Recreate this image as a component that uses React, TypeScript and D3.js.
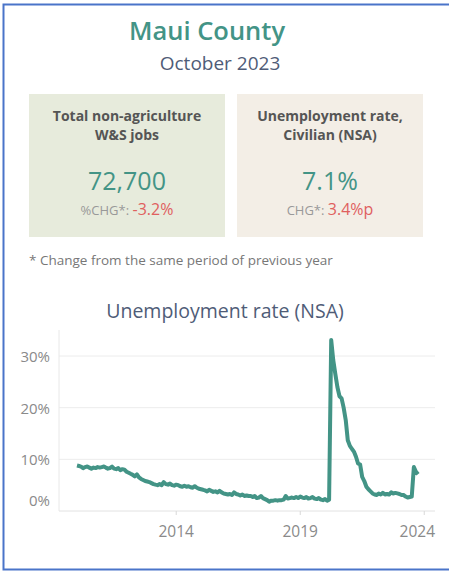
import React from "react";
import * as d3 from "d3";

// ---- Data ----
const countyName = "Maui County";
const periodLabel = "October 2023";

const kpiTitles = [["Total non-agriculture", "W&S jobs"], ["Unemployment rate,", "Civilian (NSA)"]];
const kpiValues = ["72,700", "7.1%"];
const kpiChangeLabels = ["%CHG*:", "CHG*:"];
const kpiChanges = ["-3.2%", "3.4%p"];
const footnote = "* Change from the same period of previous year";
const chartTitle = "Unemployment rate (NSA)";

const seriesStart = [2010, 0]; // Jan 2010, monthly
// Unemployment rate (%) monthly, Jan 2010 - Oct 2023
const unemploymentRate = [
  // 2010
  8.8, 8.7, 8.6, 8.3, 8.5, 8.6, 8.4, 8.2, 8.4, 8.3, 8.5, 8.4,
  // 2011
  8.5, 8.6, 8.4, 8.2, 8.3, 8.6, 8.2, 8.1, 8.3, 7.9, 8.1, 8.0,
  // 2012
  7.6, 7.4, 7.2, 7.0, 6.7, 7.1, 6.5, 6.2, 6.0, 5.8, 5.7, 5.6,
  // 2013
  5.4, 5.2, 5.1, 5.0, 5.2, 5.0, 5.6, 5.2, 5.1, 5.3, 5.0, 4.9,
  // 2014
  5.1, 5.0, 4.8, 4.7, 4.9, 4.7, 4.8, 4.6, 4.5, 4.8, 4.5, 4.3,
  // 2015
  4.2, 4.1, 4.0, 3.8, 4.1, 3.9, 3.7, 3.8, 3.6, 3.9, 3.6, 3.4,
  // 2016
  3.3, 3.2, 3.3, 3.1, 3.6, 3.3, 3.2, 3.0, 3.2, 2.9, 3.0, 2.9,
  // 2017
  2.9, 2.7, 2.9, 2.5, 2.6, 2.9, 2.5, 2.3, 2.1, 1.8, 2.0, 2.0,
  // 2018
  2.1, 2.0, 2.1, 2.1, 2.2, 2.9, 2.4, 2.5, 2.6, 2.5, 2.7, 2.5,
  // 2019
  2.8, 2.6, 2.5, 2.7, 2.4, 2.5, 2.7, 2.4, 2.3, 2.5, 2.2, 2.1,
  // 2020
  2.3, 2.0, 2.2, 33.1, 29.2, 26.5, 24.0, 22.2, 21.8, 20.0, 17.6, 13.7,
  // 2021
  12.6, 12.0, 11.5, 10.5, 9.2, 9.0, 6.6, 5.8, 4.7, 4.2, 3.8, 3.4,
  // 2022
  3.2, 3.1, 3.4, 3.2, 3.5, 3.2, 3.3, 3.2, 3.6, 3.4, 3.5, 3.4,
  // 2023
  3.3, 3.1, 3.1, 2.8, 2.6, 2.7, 2.8, 8.5, 7.6, 7.1,
];

const xTickYears = [2014, 2019, 2024];
const yTicks = [0, 10, 20, 30];

// ---- Styles ----
const W = 449;
const H = 571;
const TEAL = "#439486";
const SLATE = "#4f5c77";
const RED = "#e0605e";
const GRAY = "#8a8a8a";
const FONT = "'Open Sans', 'Noto Sans', sans-serif";

export default function App() {
  const points = unemploymentRate.map((v, i) => ({
    date: new Date(seriesStart[0], seriesStart[1] + i, 1),
    value: v,
  }));
  const x = d3
    .scaleTime()
    .domain([points[0].date, points[points.length - 1].date])
    .range([77, 418]);
  const y = d3.scaleLinear().domain([0, 30]).range([511, 356]);
  const line = d3
    .line<{ date: Date; value: number }>()
    .x((d) => x(d.date))
    .y((d) => y(d.value));

  const plotLeft = 59;
  const plotRight = 435;
  const plotTop = 330;

  const cards = [
    { x0: 29, x1: 225, fill: "#e7ebdc" },
    { x0: 237, x1: 423, fill: "#f3eee6" },
  ];

  return (
    <svg
      width={W}
      height={H}
      style={{ position: "absolute", left: 0, top: 0, background: "#fff" }}
      fontFamily={FONT}
    >
      <rect x={0} y={0} width={W} height={H} fill="#fff" />
      {/* frame */}
      <rect x={3.5} y={4.5} width={W + 10} height={565} fill="none" stroke="#4a74c9" strokeWidth={2} />

      <text x={207} y={40} textAnchor="middle" fontSize={25.5} fontWeight={600} fill={TEAL}>
        {countyName}
      </text>
      <text x={220} y={70} textAnchor="middle" fontSize={19} fill={SLATE}>
        {periodLabel}
      </text>

      {cards.map((c, i) => {
        const cx = (c.x0 + c.x1) / 2;
        return (
          <g key={i}>
            <rect x={c.x0} y={94} width={c.x1 - c.x0} height={143} fill={c.fill} />
            <text x={cx} y={121} textAnchor="middle" fontSize={14} fontWeight={700} fill="#555">
              {kpiTitles[i][0]}
            </text>
            <text x={cx} y={140} textAnchor="middle" fontSize={14} fontWeight={700} fill="#555">
              {kpiTitles[i][1]}
            </text>
            <text x={cx} y={190} textAnchor="middle" fontSize={25} fill={TEAL}>
              {kpiValues[i]}
            </text>
            <text x={cx} y={215} textAnchor="middle">
              <tspan fontSize={13} fill="#999">{kpiChangeLabels[i]} </tspan>
              <tspan fontSize={16} fill={RED}>{kpiChanges[i]}</tspan>
            </text>
          </g>
        );
      })}

      <text x={29} y={265} fontSize={13.5} fill="#777">
        {footnote}
      </text>

      <text x={225} y={318} textAnchor="middle" fontSize={19.5} fill={SLATE}>
        {chartTitle}
      </text>

      {/* gridlines */}
      {yTicks.filter((t) => t > 0).map((t) => (
        <line key={t} x1={plotLeft} x2={plotRight} y1={y(t)} y2={y(t)} stroke="#ececec" strokeWidth={1} />
      ))}
      <line x1={plotLeft} x2={plotRight} y1={y(0)} y2={y(0)} stroke="#e2e2e2" strokeWidth={1} />
      <line x1={plotLeft} x2={plotLeft} y1={plotTop} y2={y(0)} stroke="#e8e8e8" strokeWidth={1} />

      {yTicks.map((t) => (
        <text
          key={t}
          x={50}
          y={t === 0 ? y(0) - 11 : y(t)}
          textAnchor="end"
          dominantBaseline="central"
          fontSize={15}
          fill={GRAY}
        >
          {t}%
        </text>
      ))}

      {xTickYears.map((yr, i) => {
        const px = x(new Date(yr, 0, 1));
        const last = i === xTickYears.length - 1;
        return (
          <g key={yr}>
            <line x1={px} x2={px} y1={y(0)} y2={y(0) + 4} stroke="#d8d8d8" />
            <text
              x={last ? plotRight : px}
              y={537}
              textAnchor={last ? "end" : "middle"}
              fontSize={15.5}
              fill={GRAY}
            >
              {yr}
            </text>
          </g>
        );
      })}

      <path d={line(points) || ""} fill="none" stroke={TEAL} strokeWidth={4} strokeLinejoin="round" />
    </svg>
  );
}
